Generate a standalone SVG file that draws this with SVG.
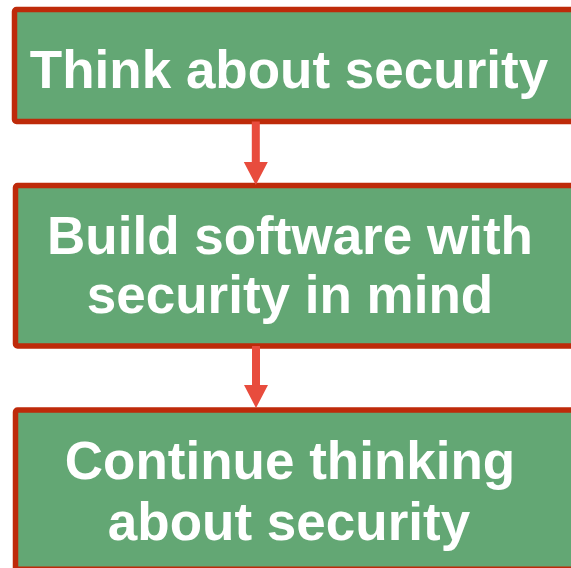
<svg xmlns="http://www.w3.org/2000/svg" width="571" height="568" viewBox="0 0 571 568">
<style>
.box{fill:#63A774;stroke:#BE2A0A;stroke-width:5.5}
.lbl{font-family:"Liberation Sans",Arial,sans-serif;font-weight:bold;font-size:53px;fill:#FFFFFF;text-anchor:middle}
.arr{fill:#E84C3D}
</style>
<rect width="571" height="568" fill="#FFFFFF"/>
<g id="node1">
<rect class="box" x="14.5" y="9.5" width="600" height="112" rx="2"/>
<text class="lbl" x="289" y="88">Think about security</text>
</g>
<g id="node2">
<rect class="box" x="15.5" y="185.5" width="600" height="160.5" rx="2"/>
<text class="lbl" x="290" y="254">Build software with</text>
<text class="lbl" x="290" y="313">security in mind</text>
</g>
<g id="node3">
<rect class="box" x="15.5" y="410" width="600" height="159.2" rx="2"/>
<text class="lbl" x="290" y="479">Continue thinking</text>
<text class="lbl" x="289" y="540">about security</text>
</g>
<g id="connectors">
<path class="arr" d="M251.8,121.5 H259.8 V162 H267.8 L255.8,185 L243.8,162 H251.8 Z"/>
<path class="arr" d="M252,346 H260 V385 H268 L256,408 L244,385 H252 Z"/>
</g>
</svg>
